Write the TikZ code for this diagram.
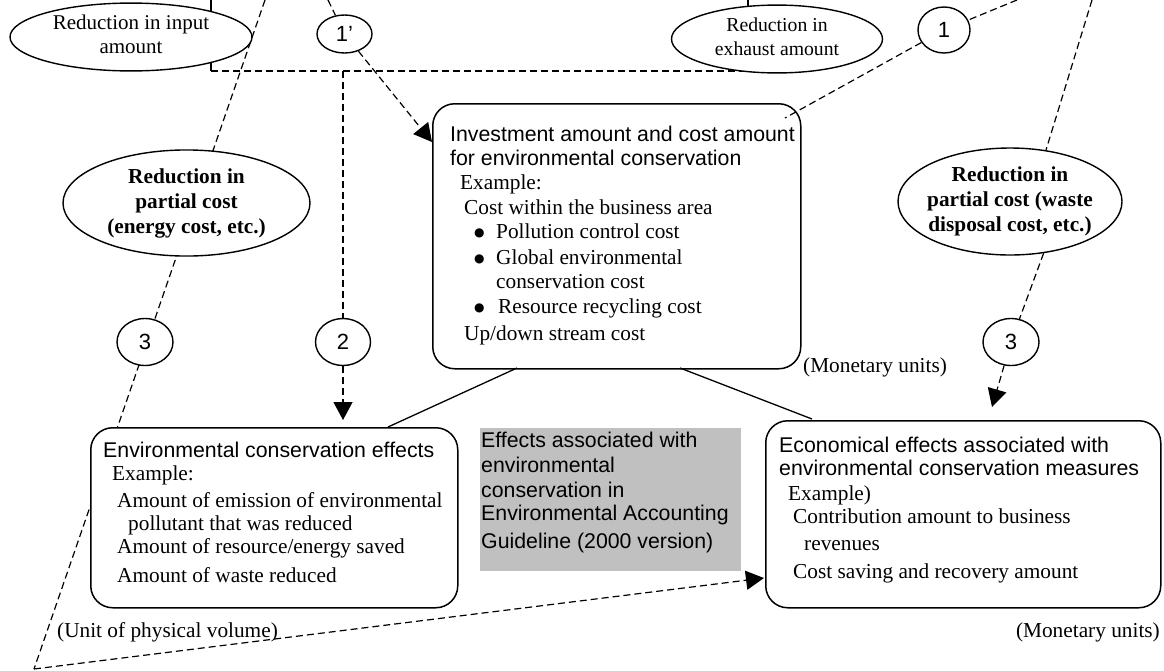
\documentclass[tikz,border=0pt]{standalone}
\usepackage{fontspec}
\setmainfont{Liberation Serif}
\setsansfont{Liberation Sans}
\newfontfamily\symfont{DejaVu Sans}
\usetikzlibrary{shapes.geometric,arrows.meta,calc}
\definecolor{grayfill}{RGB}{192,192,192}
\tikzset{
  ln/.style={line width=1.3pt},
  dsh/.style={line width=1.2pt, dash pattern=on 7pt off 4pt},
  arr/.style={-{Triangle[length=18pt,width=19pt]}},
  ell/.style={ellipse, draw, line width=1.4pt, fill=white, inner sep=0pt},
  numc/.style={ellipse, draw, line width=1.4pt, fill=white, inner sep=0pt,
    font=\fontsize{22}{24}\selectfont\sffamily},
  box/.style={draw, line width=1.5pt, fill=white, rounded corners=22pt,
    anchor=north west, inner sep=0pt},
  ser/.style={font=\fontsize{21.3}{25}\selectfont\rmfamily, inner sep=0pt, anchor=base west},
  san/.style={font=\fontsize{21.3}{24}\selectfont\sffamily, inner sep=0pt, anchor=base west},
  bul/.style={font=\fontsize{12}{14}\selectfont\symfont, inner sep=0pt, anchor=base west},
  elltxt/.style={font=\fontsize{21}{24}\selectfont\rmfamily},
  boldtxt/.style={font=\fontsize{21.3}{25}\selectfont\rmfamily\bfseries},
}
\newcommand{\ctext}[1]{\makebox[0pt]{\begin{tabular}{@{}c@{}}#1\end{tabular}}}
\begin{document}
\begin{tikzpicture}[x=1pt,y=-1pt]
\useasboundingbox (0,0) rectangle (1164,670);
% ---- background lines (drawn behind shapes)
\coordinate (tl) at (265,0);
\coordinate (bl) at (34,669);
\draw[dsh] (tl) -- (bl);
\coordinate (bk1) at (211,0);
\coordinate (bk2) at (211,71);
\coordinate (bk3) at (748,71);
\coordinate (bk4) at (748,0);
\draw[ln] (bk1) -- (bk2);
\draw[dsh] (bk2) -- (bk3);
\draw[ln] (bk3) -- (bk4);
% ---- ellipses
\node[ell, elltxt, minimum width=242, minimum height=63] (in1) at (131,37)
  {\ctext{Reduction in input\\amount}};
\node[ell, font=\fontsize{19.7}{24}\selectfont\rmfamily, minimum width=211, minimum height=66] (ex1) at (777,39)
  {\ctext{Reduction in\\exhaust amount}};
\node[ell, boldtxt, minimum width=247, minimum height=106] (pcL) at (186.5,203)
  {\ctext{Reduction in\\partial cost\\(energy cost, etc.)}};
\node[ell, boldtxt, minimum width=224, minimum height=107] (pcR) at (1010,201.5)
  {\ctext{Reduction in\\partial cost (waste\\disposal cost, etc.)}};
% ---- numbered circles
\node[numc, minimum width=55, minimum height=38] (c1p) at (344.5,34) {1’};
\node[numc, minimum width=52, minimum height=46] (c1) at (944,30) {1};
\node[numc, minimum width=55, minimum height=47] (c2) at (343,342) {2};
\node[numc, minimum width=56, minimum height=47] (c3L) at (145,342) {3};
\node[numc, minimum width=56, minimum height=47] (c3R) at (1011,342) {3};
% ---- boxes
\node[box, minimum width=368, minimum height=265] (inv) at (432,103) {};
\node[box, minimum width=367, minimum height=180] (env) at (90,427) {};
\node[box, minimum width=395, minimum height=187] (eco) at (765,420) {};
\node[fill=grayfill, anchor=north west, inner sep=0pt, minimum width=261, minimum height=143] (gray) at (480,428) {};
% ---- texts: investment box
\node[san] (i1) at (450,141) {Investment amount and cost amount};
\node[san] (i2) at (450,165) {for environmental conservation};
\node[ser] (i3) at (460,189) {Example:};
\node[ser] (i4) at (464,214) {Cost within the business area};
\node[bul] (ib1) at (474,236) {●};
\node[ser] (i5) at (496,238) {Pollution control cost};
\node[bul] (ib2) at (474,262) {●};
\node[ser] (i6) at (496,264) {Global environmental};
\node[ser] (i7) at (496,288) {conservation cost};
\node[bul] (ib3) at (474,311) {●};
\node[ser] (i8) at (498,313) {Resource recycling cost};
\node[ser] (i9) at (464,340) {Up/down stream cost};
% ---- texts: environmental box
\node[san] (e1) at (103,457) {Environmental conservation effects};
\node[ser] (e2) at (112,480) {Example:};
\node[ser] (e3) at (117,507) {Amount of emission of environmental};
\node[ser] (e4) at (128,530) {pollutant that was reduced};
\node[ser] (e5) at (117,553) {Amount of resource/energy saved};
\node[ser] (e6) at (117,582) {Amount of waste reduced};
% ---- texts: economical box
\node[san] (k1) at (779,452) {Economical effects associated with};
\node[san] (k2) at (779,475) {environmental conservation measures};
\node[ser] (k3) at (788,500) {Example)};
\node[ser] (k4) at (793,523) {Contribution amount to business};
\node[ser] (k5) at (804,550) {revenues};
\node[ser] (k6) at (793,578) {Cost saving and recovery amount};
% ---- texts: gray box
\node[san] (g1) at (481,447) {Effects associated with};
\node[san] (g2) at (481,472) {environmental};
\node[san] (g3) at (481,497) {conservation in};
\node[san] (g4) at (481,520) {Environmental Accounting};
\node[san] (g5) at (481,548) {Guideline (2000 version)};
% ---- unit labels
\node[ser] (u1) at (803,372) {(Monetary units)};
\node[ser, anchor=base east] (u2) at (1160,637) {(Monetary units)};
\node[ser] (u3) at (57,637) {(Unit of physical volume)};
% ---- connectors
\coordinate (t1p) at (328,0);
\coordinate (a1p) at (432,142);
\draw[dsh] (t1p) -- (c1p);
\draw[dsh, arr] (c1p) -- (a1p);
\coordinate (t1) at (1017,0);
\coordinate (ic) at (785,118);
\draw[dsh] (t1) -- (c1);
\draw[dsh] (c1) -- (ic);
\coordinate (j2) at (343,71);
\coordinate (a2) at (343,420);
\draw[dsh] (j2) -- (c2);
\draw[dsh, arr] (c2) -- (a2);
\coordinate (tr) at (1092,0);
\coordinate (a3R) at (992,407);
\draw[dsh] (tr) -- (pcR.55);
\draw[dsh] (pcR.-57) -- (c3R);
\draw[dsh, arr] (c3R) -- (a3R);
\coordinate (a4) at (764,578);
\draw[dsh, arr] (bl) -- (a4);
\coordinate (s1) at (517,368);
\coordinate (s2) at (388,427);
\coordinate (s3) at (680,368);
\coordinate (s4) at (812,419);
\draw[ln] (s1) -- (s2);
\draw[ln] (s3) -- (s4);
\end{tikzpicture}
\end{document}
